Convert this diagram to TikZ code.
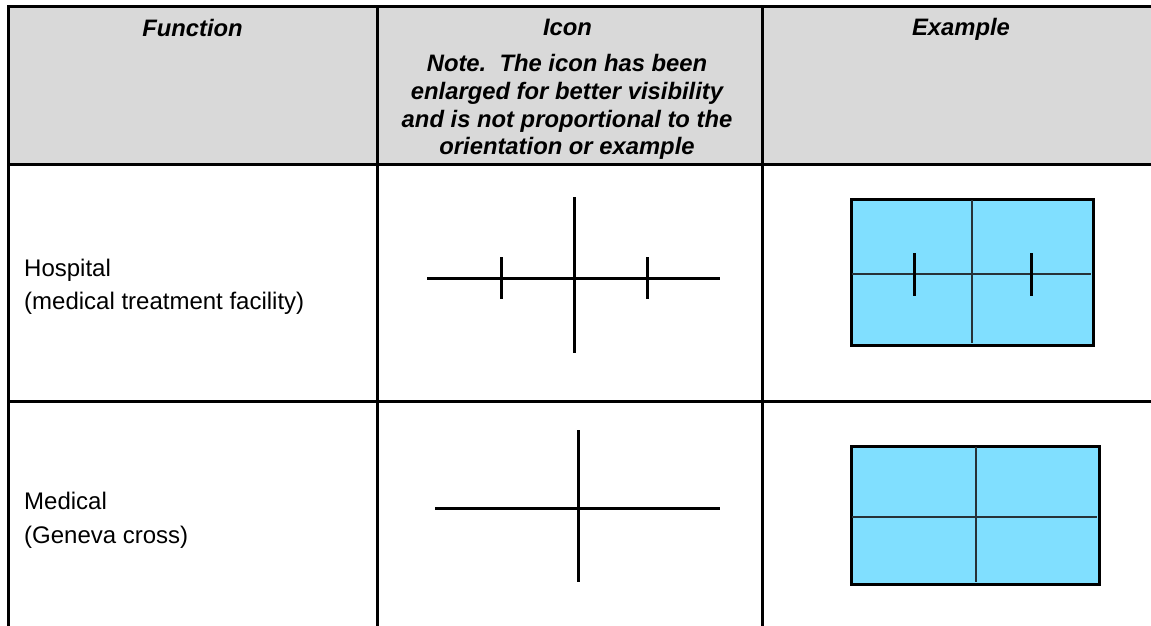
\documentclass[tikz,border=0pt]{standalone}
\usepackage{fontspec}
\setmainfont{Liberation Sans}
\definecolor{hdrgray}{HTML}{D9D9D9}
\definecolor{skyblue}{HTML}{80DFFF}
\definecolor{gridline}{HTML}{263238}
\tikzset{
  border/.style={line width=3pt, black},
  iconline/.style={line width=3pt, black},
  exbox/.style={fill=skyblue, draw=black, line width=3pt},
  exgrid/.style={line width=1.4pt, gridline},
  hdrtext/.style={font=\fontsize{23.8}{27.5}\selectfont\bfseries\itshape, anchor=base, inner sep=0pt},
  bodytext/.style={font=\fontsize{24}{28}\selectfont, anchor=base west, inner sep=0pt},
}
\begin{document}
\begin{tikzpicture}[x=1pt,y=-1pt]
\useasboundingbox (0,0) rectangle (1151,626);
\clip (0,0) rectangle (1151,626);
% header background
\fill[hdrgray] (8.5,7) rectangle (1170,164);
% table lines
\draw[border] (8.5,7) -- (1170,7);
\draw[border] (8.5,164) -- (1170,164);
\draw[border] (8.5,401) -- (1170,401);
\draw[border] (8.5,5.5) -- (8.5,640);
\draw[border] (377,5.5) -- (377,640);
\draw[border] (762,5.5) -- (762,640);
% header texts
\node[hdrtext] (hfun) at (192.5,37) {Function};
\node[hdrtext] (hicon) at (567.5,36) {Icon};
\node[hdrtext] (note1) at (567,72) {Note.\ \ The icon has been};
\node[hdrtext] (note2) at (567,99.5) {enlarged for better visibility};
\node[hdrtext] (note3) at (567,127) {and is not proportional to the};
\node[hdrtext] (note4) at (567,154) {orientation or example};
\node[hdrtext] (hex) at (961,36) {Example};
% row 1 text
\node[bodytext] (hosp1) at (24,276) {Hospital};
\node[bodytext] (hosp2) at (24,309) {(medical treatment facility)};
% row 2 text
\node[bodytext] (med1) at (24,509) {Medical};
\node[bodytext] (med2) at (24,543) {(Geneva cross)};
% icon 1
\coordinate (i1l) at (427,278); \coordinate (i1r) at (720,278);
\coordinate (i1t) at (574,197); \coordinate (i1b) at (574,353);
\draw[iconline] (i1l) -- (i1r);
\draw[iconline] (i1t) -- (i1b);
\draw[iconline] (501,257) -- (501,299);
\draw[iconline] (647,257) -- (647,299);
% icon 2
\coordinate (i2l) at (435,508); \coordinate (i2r) at (720,508);
\coordinate (i2t) at (578,430); \coordinate (i2b) at (578,582);
\draw[iconline] (i2l) -- (i2r);
\draw[iconline] (i2t) -- (i2b);
% example 1
\node[exbox, minimum width=242pt, minimum height=146pt, inner sep=0pt, anchor=north west] (ex1) at (850,198) {};
\draw[exgrid] (972,199.5) -- (972,342.5);
\draw[exgrid] (851.5,274) -- (1090.5,274);
\draw[iconline] (914,253) -- (914,296);
\draw[iconline] (1031,253) -- (1031,296);
% example 2
\node[exbox, minimum width=248pt, minimum height=138pt, inner sep=0pt, anchor=north west] (ex2) at (850,445) {};
\draw[exgrid] (976,446.5) -- (976,581.5);
\draw[exgrid] (851.5,517) -- (1096.5,517);
\end{tikzpicture}
\end{document}
